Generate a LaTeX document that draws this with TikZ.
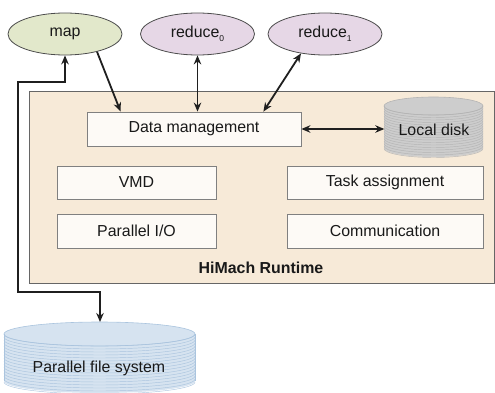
\documentclass[tikz,border=0pt]{standalone}
\usepackage{fontspec}
\setmainfont{Liberation Sans}
\usetikzlibrary{shapes.geometric,arrows.meta,calc}
\definecolor{mapfill}{HTML}{E2E8CB}
\definecolor{redfill}{HTML}{E6D7E6}
\definecolor{rtfill}{HTML}{F7EAD8}
\definecolor{boxfill}{HTML}{FDFAF6}
\definecolor{ldfill}{HTML}{CDCDCD}
\definecolor{ldline}{HTML}{B4B4B4}
\definecolor{pfsfill}{HTML}{D6E3F0}
\definecolor{pfsline}{HTML}{AAC4DE}
\newcommand{\mysub}[1]{\raisebox{-4pt}{\fontsize{8.5}{9}\selectfont #1}}
\begin{document}
\begin{tikzpicture}[x=1pt,y=-1pt,
  font=\fontsize{15.9}{18}\selectfont, text=black!90,
  oval/.style={ellipse, draw=black!70, line width=0.8pt, minimum width=114pt, minimum height=42pt, inner sep=0pt},
  unit/.style={draw=black!50, fill=boxfill, line width=0.8pt, inner sep=0pt},
  conn/.style={line width=1.8pt, draw=black!88, -{Stealth[length=9pt,width=7.5pt]}},
  bconn/.style={line width=1.8pt, draw=black!88, {Stealth[length=9pt,width=7.5pt]}-{Stealth[length=9pt,width=7.5pt]}}]
\useasboundingbox (0,0) rectangle (495,393);

% runtime container
\node[draw=black!60, fill=rtfill, line width=1pt, minimum width=465pt, minimum height=192pt, anchor=north west, inner sep=0pt] (rt) at (29,91) {};
\node[font=\fontsize{15.9}{18}\selectfont\bfseries] (rtlabel) at (261,268) {HiMach Runtime};

% local disk cylinder
\fill[ldfill] (384,106) -- (384,148) arc[start angle=180,end angle=0,x radius=49.5,y radius=9] -- (483,106) arc[start angle=0,end angle=-180,x radius=49.5,y radius=9] -- cycle;
\foreach \yy in {106,108.5,...,148.5} \draw[ldline, line width=0.45pt] (384,\yy) arc[start angle=180,end angle=0,x radius=49.5,y radius=9];
\draw[ldline, line width=0.6pt] (433.5,106) ellipse[x radius=49.5,y radius=9];
\node[inner sep=0pt, minimum width=99pt, minimum height=50pt] (ld) at (434,130) {Local disk};

% parallel file system cylinder
\fill[pfsfill] (4,334) -- (4,381) arc[start angle=180,end angle=0,x radius=95.5,y radius=12] -- (195,334) arc[start angle=0,end angle=-180,x radius=95.5,y radius=12] -- cycle;
\foreach \yy in {334,337,...,382} \draw[pfsline, line width=0.45pt] (4,\yy) arc[start angle=180,end angle=0,x radius=95.5,y radius=12];
\draw[pfsline, line width=0.6pt] (99.5,334) ellipse[x radius=95.5,y radius=12];
\draw[pfsline, line width=0.6pt] (4,334) -- (4,381);
\draw[pfsline, line width=0.6pt] (195,334) -- (195,381);
\node (pfs) at (99,368) {Parallel file system};
\coordinate (pfstop) at (100,322);

% inner boxes
\node[unit, minimum width=214pt, minimum height=34pt] (dm) at (194,129) {Data management};
\node[unit, minimum width=159pt, minimum height=33pt] (vmd) at (136.5,182.5) {VMD};
\node[unit, minimum width=159pt, minimum height=34pt] (pio) at (136.5,231) {Parallel I/O};
\node[unit, minimum width=196pt, minimum height=33pt] (task) at (385,182.5) {Task assignment};
\node[unit, minimum width=196pt, minimum height=34pt] (comm) at (385,231) {Communication};

% ellipses
\node[oval, fill=mapfill] (map) at (65,34) {map};
\node[oval, fill=redfill] (r0) at (197.5,34) {reduce\mysub{0}};
\node[oval, fill=redfill] (r1) at (325,34) {reduce\mysub{1}};

% connectors
\coordinate (bendT) at (18,82);
\coordinate (bendB) at (18,292);
\draw[conn] (map.-29) -- ([xshift=34pt]dm.north west);
\draw[bconn] (r0.south) -- (r0.south |- dm.north);
\draw[bconn] (r1.219) -- ([xshift=-38pt]dm.north east);
\draw[bconn] (dm.east) -- (dm.east -| ld.west);
\draw[bconn] (map.south) |- (bendT) -- (bendB) -| (pfstop);
\end{tikzpicture}
\end{document}
